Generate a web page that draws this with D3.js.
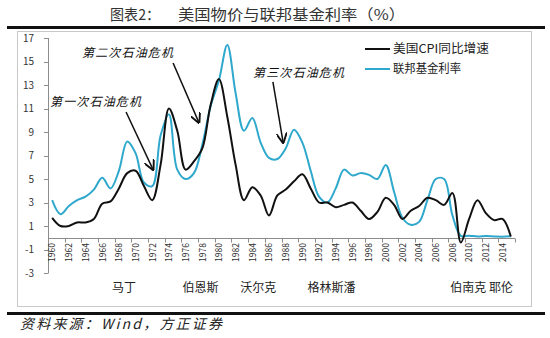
<!DOCTYPE html>
<html><head><meta charset="utf-8">
<script src="https://cdn.jsdelivr.net/npm/d3@7"></script>
<style>
html,body{margin:0;padding:0;background:#fff;}
svg{display:block;}
text{font-family:"Noto Sans CJK SC","Noto Sans",sans-serif;}
</style></head>
<body>
<svg id="c" width="550" height="338"></svg>
<script>
const years = d3.range(1960, 2016);
const cpi = [1.7,1.0,1.0,1.3,1.3,1.6,2.9,3.1,4.2,5.5,5.7,4.4,3.2,6.2,11.0,9.1,5.8,6.5,7.6,11.3,
  13.5,10.3,6.2,3.2,4.3,3.6,1.9,3.6,4.1,4.8,5.4,4.2,3.0,3.0,2.6,2.8,3.0,2.3,1.6,2.2,
  3.4,2.8,1.6,2.3,2.7,3.4,3.2,2.8,3.8,-0.4,1.6,3.2,2.1,1.5,1.6,0.1];
const fedFunds = [3.2,2.0,2.7,3.2,3.5,4.1,5.1,4.2,5.7,8.2,7.2,4.7,4.4,8.7,10.5,5.8,5.0,5.5,7.9,11.2,
  13.4,16.4,12.3,9.1,10.2,8.1,6.8,6.7,7.6,9.2,8.1,5.7,3.5,3.0,4.2,5.8,5.3,5.5,5.35,5.0,
  6.2,3.9,1.7,1.1,1.35,3.2,5.0,5.0,1.9,0.16,0.18,0.1,0.14,0.11,0.09,0.13];
const yTicks = [17,15,13,11,9,7,5,3,1,-1,-3];
const xLabels = d3.range(1960, 2015, 2);
const seriesNames = ["美国CPI同比增速","联邦基金利率"];
const chairs = [{name:"马丁", year:1968.6},{name:"伯恩斯", year:1977.8},{name:"沃尔克", year:1984.7},
  {name:"格林斯潘", year:1993.5},{name:"伯南克 耶伦", year:2011.5}];
const crises = [
  {text:"第一次石油危机", from:[1968.86,10.7], to:[1972.1,5.8], tx:50, ty:106},
  {text:"第二次石油危机", from:[1974.5,14.87], to:[1977.6,9.8], tx:82, ty:57},
  {text:"第三次石油危机", from:[1986.47,13.26], to:[1987.7,8.1], tx:253, ty:77}
];

const svg = d3.select("#c");
const x = d3.scaleLinear().domain([1959.5, 2015.5]).range([48, 515]);
const y = d3.scaleLinear().domain([-3, 17]).range([273, 38]);

// title
svg.append("text").attr("x",110).attr("y",20).attr("font-size",15).attr("fill","#333")
  .attr("textLength",50).attr("lengthAdjust","spacingAndGlyphs").text("图表2：");
svg.append("text").attr("x",178).attr("y",20).attr("font-size",15).attr("fill","#333")
  .attr("textLength",227).attr("lengthAdjust","spacingAndGlyphs").text("美国物价与联邦基金利率（%）");
svg.append("rect").attr("x",7).attr("y",26).attr("width",538).attr("height",3).attr("fill","#111");
svg.append("rect").attr("x",7).attr("y",312).attr("width",538).attr("height",3).attr("fill","#111");
// chart frame
svg.append("rect").attr("x",17.5).attr("y",31.5).attr("width",514).attr("height",275)
  .attr("fill","none").attr("stroke","#c8c8c8").attr("stroke-width",1);

// y axis
const ya = svg.append("g");
ya.append("line").attr("x1",48.5).attr("x2",48.5).attr("y1",y(17)).attr("y2",y(-3)).attr("stroke","#8c8c8c");
yTicks.forEach(v=>{
  ya.append("line").attr("x1",44).attr("x2",48.5).attr("y1",Math.round(y(v))+0.5).attr("y2",Math.round(y(v))+0.5).attr("stroke","#8c8c8c");
  ya.append("text").attr("x",34).attr("y",y(v)).attr("dy","0.35em").attr("text-anchor","end")
    .attr("font-size",10).attr("font-family","Liberation Sans, Arial, sans-serif").attr("fill","#333").text(v);
});
// x axis
const xa = svg.append("g");
const y0 = Math.round(y(0))+0.5;
xa.append("line").attr("x1",48).attr("x2",515).attr("y1",y0).attr("y2",y0).attr("stroke","#8c8c8c");
d3.range(0, 29).forEach(k=>{
  const xx = Math.round(x(1959.5 + 2*k))+0.5;
  xa.append("line").attr("x1",xx).attr("x2",xx).attr("y1",y0).attr("y2",y0+4).attr("stroke","#8c8c8c");
});
xLabels.forEach(yr=>{
  xa.append("text").attr("transform",`translate(${x(yr)},243) rotate(-90)`)
    .attr("dy","0.35em").attr("text-anchor","end").attr("font-size",9.5)
    .attr("font-family","Liberation Sans, Arial, sans-serif").attr("fill","#333")
    .attr("textLength",19).attr("lengthAdjust","spacingAndGlyphs").text(yr);
});

// lines
const line = d3.line().curve(d3.curveCatmullRom.alpha(0.5));
svg.append("path").attr("d", line(years.map((yr,i)=>[x(yr), y(fedFunds[i])])))
  .attr("fill","none").attr("stroke","#2ea8cc").attr("stroke-width",2);
svg.append("path").attr("d", line(years.map((yr,i)=>[x(yr), y(cpi[i])])))
  .attr("fill","none").attr("stroke","#111").attr("stroke-width",2);

// legend
const lg = svg.append("g");
[["#111",49,96],["#2ea8cc",69,68]].forEach((d,i)=>{
  lg.append("line").attr("x1",365).attr("x2",390).attr("y1",d[1]).attr("y2",d[1]).attr("stroke",d[0]).attr("stroke-width",2);
  lg.append("text").attr("x",393).attr("y",d[1]).attr("dy","0.36em").attr("font-size",12).attr("fill","#222")
    .attr("textLength",d[2]).attr("lengthAdjust","spacingAndGlyphs").text(seriesNames[i]);
});

// annotations
const defs = svg.append("defs");
defs.append("marker").attr("id","arr").attr("viewBox","0 0 10 10").attr("refX",9).attr("refY",5)
  .attr("markerWidth",7).attr("markerHeight",7).attr("orient","auto")
  .append("path").attr("d","M0,0 L10,5 L0,10").attr("fill","none").attr("stroke","#111").attr("stroke-width",1.8);
crises.forEach(c=>{
  svg.append("text").attr("x",c.tx).attr("y",c.ty).attr("font-size",12).attr("fill","#111")
    .attr("textLength",91).attr("lengthAdjust","spacing").attr("font-style","italic").text(c.text);
  svg.append("line").attr("x1",x(c.from[0])).attr("y1",y(c.from[1])).attr("x2",x(c.to[0])).attr("y2",y(c.to[1]))
    .attr("stroke","#111").attr("stroke-width",1.5).attr("marker-end","url(#arr)");
});

// chairs
chairs.forEach(c=>{
  svg.append("text").attr("x",x(c.year)).attr("y",292).attr("text-anchor","middle").attr("font-size",12)
    .attr("fill","#222").text(c.name);
});

// footer
svg.append("text").attr("x",20).attr("y",329).attr("font-size",14).attr("font-style","italic").attr("fill","#222")
  .attr("textLength",202).attr("lengthAdjust","spacing").text("资料来源：Wind，方正证券");
</script>
</body></html>
